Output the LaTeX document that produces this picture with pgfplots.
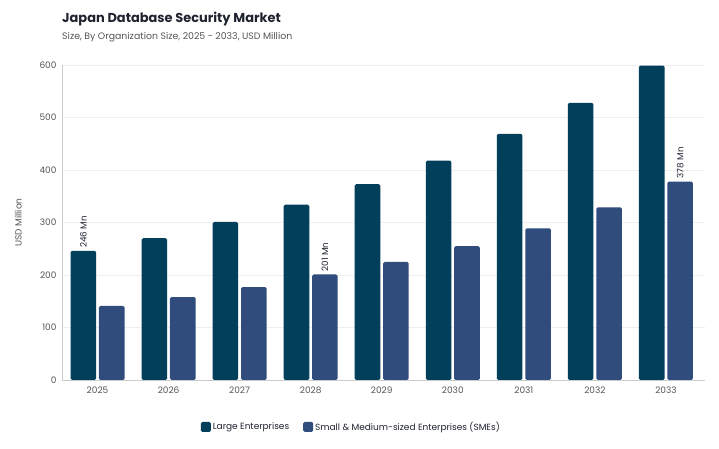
\documentclass[border=0pt]{standalone}
\usepackage{pgfplots}
\pgfplotsset{compat=1.18}
\usepackage{fontspec}
\setmainfont{Poppins}
\definecolor{large}{HTML}{023F5B}
\definecolor{sme}{HTML}{304C7D}
\definecolor{gridc}{HTML}{EEEEEE}
\definecolor{axisc}{HTML}{CCCCCC}
\definecolor{tickc}{HTML}{555555}
\definecolor{titlec}{HTML}{1F2330}

\begin{document}
\begin{tikzpicture}[x=1bp,y=1bp]
\path (0,0) rectangle (719,449);
\node[anchor=base west,font=\fontsize{13}{15}\selectfont\bfseries,text=titlec,inner sep=0] at (62,426) {Japan Database Security Market};
\node[anchor=base west,font=\fontsize{9.4}{11}\selectfont,text=tickc,inner sep=0] at (62,409) {Size, By Organization Size, 2025 - 2033, USD Million};
\begin{axis}[
  at={(62bp,69bp)}, anchor=south west,
  scale only axis,
  width=643bp, height=315bp,
  xmin=-0.5, xmax=8.55,
  ymin=0, ymax=600,
  ytick={0,100,...,600},
  xtick={0,...,8},
  xticklabels={2025,2026,2027,2028,2029,2030,2031,2032,2033},
  /pgf/number format/assume math mode=true,
  ticklabel style={font=\fontsize{9}{11}\selectfont, text=tickc},
  tick style={draw=none},
  ymajorgrids, grid style={gridc, line width=0.6pt},
  axis x line*=bottom, axis y line*=left,
  axis line style={axisc, line width=0.8pt},
  x axis line style={-}, y axis line style={-},
  ylabel={USD Million},
  ylabel style={font=\fontsize{9}{11}\selectfont, text=tickc, at={(axis description cs:-0.068,0.5)}, anchor=center},
  yticklabel style={xshift=-2bp},
  xticklabel style={yshift=-3bp},
  legend columns=2,
  legend style={draw=none, at={(0.45,-0.149)}, anchor=center,
    font=\fontsize{9}{11}\selectfont, text=titlec,
    /tikz/every even column/.append style={column sep=12bp}},
  legend image code/.code={\fill[#1, rounded corners=1.5bp] (0bp,-5bp) rectangle (10bp,5bp);},
]
\addplot[ybar, bar width=0.36, bar shift=-0.2, fill=large, draw=none, rounded corners=1.5bp,
  nodes near coords, point meta=explicit symbolic,
  every node near coord/.append style={xshift=-14.2bp, font=\fontsize{8.8}{10}\selectfont, text=titlec, rotate=90, anchor=west, inner sep=3bp}]
  table[meta=label, col sep=comma] {
x,y,label
0,246,246 Mn
1,270,
2,301,
3,334,
4,373,
5,418,
6,469,
7,528,
8,599,
};
\addlegendentry{Large Enterprises}
\addplot[ybar, bar width=0.36, bar shift=0.2, fill=sme, draw=none, rounded corners=1.5bp,
  nodes near coords, point meta=explicit symbolic,
  every node near coord/.append style={xshift=14.2bp, font=\fontsize{8.8}{10}\selectfont, text=titlec, rotate=90, anchor=west, inner sep=3bp}]
  table[meta=label, col sep=comma] {
x,y,label
0,141,
1,158,
2,177,
3,201,201 Mn
4,225,
5,255,
6,289,
7,329,
8,378,378 Mn
};
\addlegendentry{Small \& Medium-sized Enterprises (SMEs)}
\end{axis}
\end{tikzpicture}
\end{document}
